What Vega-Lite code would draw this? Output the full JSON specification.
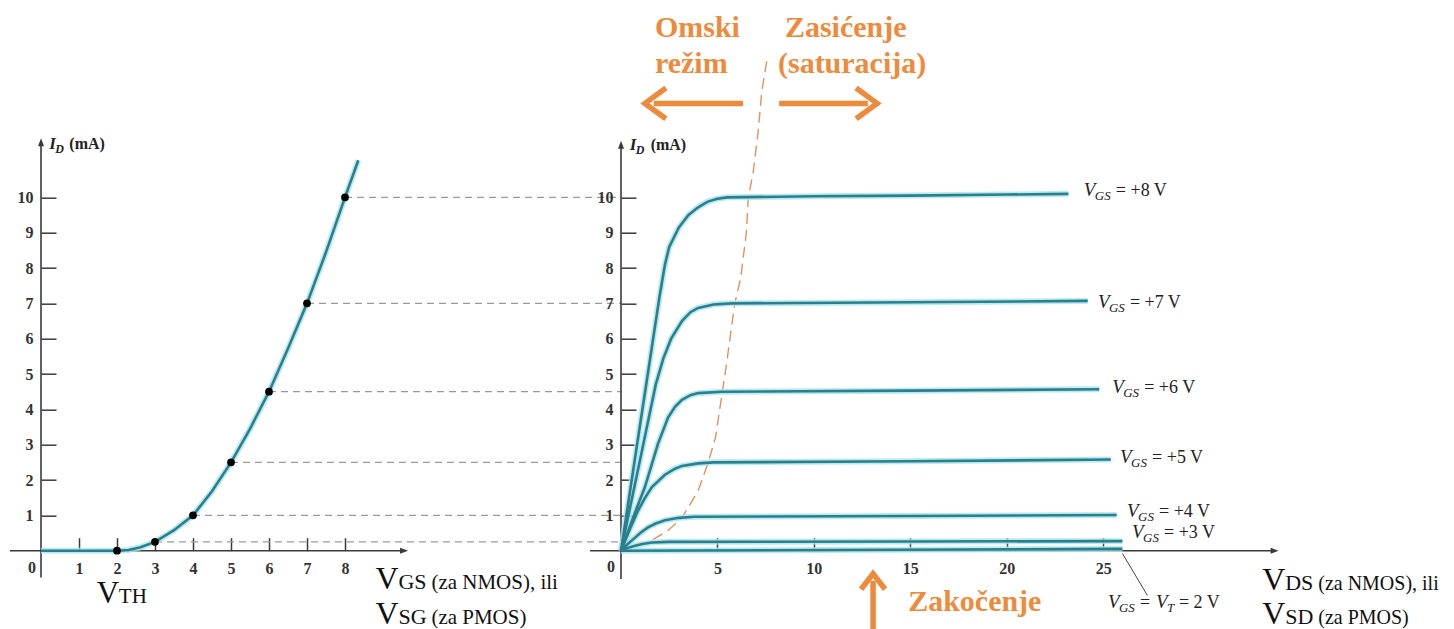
{
  "$schema": "https://vega.github.io/schema/vega-lite/v6.json",
  "background": "white",
  "padding": {"left": 9, "top": 12.7, "right": 0, "bottom": 0},
  "spacing": 200,
  "bounds": "flush",
  "config": {
    "view": {"stroke": null},
    "font": "Liberation Serif",
    "axis": {"domain": false, "grid": false, "tickColor": "#3a3a3a", "tickWidth": 1.5, "labelFont": "Liberation Serif", "labelFontSize": 16, "labelFontWeight": "bold", "labelColor": "#333333"},
    "text": {"font": "Liberation Serif", "color": "#222222", "align": "left", "baseline": "alphabetic"}
  },
  "datasets": {
    "leftCurve": [
      {"x": 0, "y": 0}, {"x": 1, "y": 0}, {"x": 2, "y": 0}, {"x": 2.3, "y": 0.02}, {"x": 2.6, "y": 0.09},
      {"x": 3, "y": 0.25}, {"x": 3.5, "y": 0.58}, {"x": 4, "y": 1.0}, {"x": 4.5, "y": 1.68}, {"x": 5, "y": 2.5},
      {"x": 5.5, "y": 3.45}, {"x": 6, "y": 4.5}, {"x": 6.5, "y": 5.72}, {"x": 7, "y": 7.0}, {"x": 7.5, "y": 8.45},
      {"x": 8, "y": 10.0}, {"x": 8.35, "y": 11.05}
    ],
    "leftDots": [
      {"x": 2, "y": 0}, {"x": 3, "y": 0.25}, {"x": 4, "y": 1}, {"x": 5, "y": 2.5},
      {"x": 6, "y": 4.5}, {"x": 7, "y": 7}, {"x": 8, "y": 10}
    ],
    "rightDash": [
      {"y": 10, "xk": 5.5}, {"y": 7, "xk": 5.7}, {"y": 4.5, "xk": 5.0},
      {"y": 2.5, "xk": 4.4}, {"y": 1, "xk": 3.5}, {"y": 0.25, "xk": 2.0}
    ],
    "boundary": [
      {"x": 0, "y": 0}, {"x": 1.4, "y": 0.23}, {"x": 2.44, "y": 0.57}, {"x": 3.16, "y": 0.93},
      {"x": 4.0, "y": 1.7}, {"x": 4.5, "y": 2.46}, {"x": 4.9, "y": 3.2}, {"x": 5.2, "y": 4.3},
      {"x": 5.45, "y": 5.2}, {"x": 5.9, "y": 7.0}, {"x": 6.2, "y": 7.7}, {"x": 6.5, "y": 9.0},
      {"x": 6.6, "y": 10.0}, {"x": 6.85, "y": 10.7}, {"x": 7.1, "y": 11.8}, {"x": 7.3, "y": 13.0},
      {"x": 7.57, "y": 13.9}
    ],
    "rightCurves": [
      {"vgs": 8, "x": 0, "y": 0}, {"vgs": 8, "x": 1.0, "y": 3.6}, {"vgs": 8, "x": 2.0, "y": 7.2},
      {"vgs": 8, "x": 2.28, "y": 8.1}, {"vgs": 8, "x": 2.5, "y": 8.6}, {"vgs": 8, "x": 3.0, "y": 9.15},
      {"vgs": 8, "x": 3.5, "y": 9.5}, {"vgs": 8, "x": 4.0, "y": 9.72}, {"vgs": 8, "x": 4.5, "y": 9.88},
      {"vgs": 8, "x": 5.0, "y": 9.96}, {"vgs": 8, "x": 5.5, "y": 10.0}, {"vgs": 8, "x": 10, "y": 10.03},
      {"vgs": 8, "x": 15, "y": 10.05}, {"vgs": 8, "x": 20, "y": 10.08}, {"vgs": 8, "x": 23.2, "y": 10.1},
      {"vgs": 7, "x": 0, "y": 0}, {"vgs": 7, "x": 1.0, "y": 2.6}, {"vgs": 7, "x": 1.8, "y": 4.7},
      {"vgs": 7, "x": 2.2, "y": 5.45}, {"vgs": 7, "x": 2.6, "y": 6.0}, {"vgs": 7, "x": 3.16, "y": 6.5},
      {"vgs": 7, "x": 3.6, "y": 6.75}, {"vgs": 7, "x": 4.0, "y": 6.87}, {"vgs": 7, "x": 4.8, "y": 6.97},
      {"vgs": 7, "x": 5.76, "y": 7.0}, {"vgs": 7, "x": 15, "y": 7.03}, {"vgs": 7, "x": 24.2, "y": 7.07},
      {"vgs": 6, "x": 0, "y": 0}, {"vgs": 6, "x": 0.6, "y": 0.9}, {"vgs": 6, "x": 1.24, "y": 1.8},
      {"vgs": 6, "x": 1.6, "y": 2.45}, {"vgs": 6, "x": 1.92, "y": 3.03}, {"vgs": 6, "x": 2.44, "y": 3.77},
      {"vgs": 6, "x": 2.8, "y": 4.07}, {"vgs": 6, "x": 3.16, "y": 4.27}, {"vgs": 6, "x": 3.6, "y": 4.4},
      {"vgs": 6, "x": 4.0, "y": 4.46}, {"vgs": 6, "x": 5.2, "y": 4.5}, {"vgs": 6, "x": 15, "y": 4.53},
      {"vgs": 6, "x": 24.8, "y": 4.57},
      {"vgs": 5, "x": 0, "y": 0}, {"vgs": 5, "x": 0.45, "y": 0.6}, {"vgs": 5, "x": 0.88, "y": 1.13},
      {"vgs": 5, "x": 1.25, "y": 1.5}, {"vgs": 5, "x": 1.6, "y": 1.8}, {"vgs": 5, "x": 2.28, "y": 2.15},
      {"vgs": 5, "x": 2.8, "y": 2.32}, {"vgs": 5, "x": 3.16, "y": 2.4}, {"vgs": 5, "x": 4.0, "y": 2.47},
      {"vgs": 5, "x": 4.8, "y": 2.5}, {"vgs": 5, "x": 15, "y": 2.53}, {"vgs": 5, "x": 25.4, "y": 2.58},
      {"vgs": 4, "x": 0, "y": 0}, {"vgs": 4, "x": 0.35, "y": 0.19}, {"vgs": 4, "x": 0.73, "y": 0.37},
      {"vgs": 4, "x": 1.0, "y": 0.5}, {"vgs": 4, "x": 1.4, "y": 0.66}, {"vgs": 4, "x": 1.8, "y": 0.77},
      {"vgs": 4, "x": 2.28, "y": 0.86}, {"vgs": 4, "x": 3.0, "y": 0.93}, {"vgs": 4, "x": 3.8, "y": 0.96},
      {"vgs": 4, "x": 15, "y": 0.98}, {"vgs": 4, "x": 25.7, "y": 1.01},
      {"vgs": 3, "x": 0, "y": 0}, {"vgs": 3, "x": 0.35, "y": 0.08}, {"vgs": 3, "x": 0.73, "y": 0.14},
      {"vgs": 3, "x": 1.1, "y": 0.19}, {"vgs": 3, "x": 1.6, "y": 0.23}, {"vgs": 3, "x": 2.5, "y": 0.25},
      {"vgs": 3, "x": 15, "y": 0.26}, {"vgs": 3, "x": 26.0, "y": 0.27},
      {"vgs": 2, "x": 0, "y": 0}, {"vgs": 2, "x": 26.0, "y": 0.05}
    ],
    "vgsLabels": [
      {"x": 24.0, "y": 10.03, "rest": "= +8 V"},
      {"x": 24.73, "y": 6.88, "rest": "= +7 V"},
      {"x": 25.47, "y": 4.45, "rest": "= +6 V"},
      {"x": 25.88, "y": 2.49, "rest": "= +5 V"},
      {"x": 26.24, "y": 0.96, "rest": "= +4 V"},
      {"x": 26.5, "y": 0.35, "rest": "= +3 V"}
    ],
    "orangeText": [
      {"x": 1.76, "y": 14.53, "t": "Omski"},
      {"x": 1.76, "y": 13.51, "t": "režim"},
      {"x": 8.5, "y": 14.53, "t": "Zasićenje"},
      {"x": 8.14, "y": 13.51, "t": "(saturacija)"},
      {"x": 14.89, "y": -1.7, "t": "Zakočenje"}
    ]
  },
  "hconcat": [
    {
      "width": 380,
      "height": 424,
      "encoding": {
        "x": {"field": "x", "type": "quantitative", "scale": {"domain": [0, 10]},
              "axis": {"title": null, "values": [1, 2, 3, 4, 5, 6, 7, 8], "tickSize": -13, "labelPadding": 23}},
        "y": {"field": "y", "type": "quantitative", "scale": {"domain": [0, 12]},
              "axis": {"title": null, "values": [1, 2, 3, 4, 5, 6, 7, 8, 9, 10], "tickSize": -15, "labelPadding": 23}}
      },
      "layer": [
        {"data": {"name": "leftDots"}, "transform": [{"filter": "datum.y > 0"}],
         "mark": {"type": "rule", "color": "#9a9a9a", "strokeWidth": 1.3, "strokeDash": [7, 5]},
         "encoding": {"x2": {"datum": 15.26}}},
        {"data": {"values": [{"x": -0.82, "x2": 9.5, "y": 0}]},
         "mark": {"type": "rule", "color": "#3a3a3a", "strokeWidth": 1.6},
         "encoding": {"x2": {"field": "x2"}}},
        {"data": {"values": [{"x": 0, "y": -0.76, "y2": 11.5}]},
         "mark": {"type": "rule", "color": "#3a3a3a", "strokeWidth": 1.6},
         "encoding": {"y2": {"field": "y2"}}},
        {"data": {"values": [{"x": 9.66, "y": 0}]},
         "mark": {"type": "point", "shape": "M0,0L-2,-0.75L-2,0.75Z", "filled": true, "opacity": 1, "color": "#3a3a3a", "size": 64}},
        {"data": {"values": [{"x": 0, "y": 11.67}]},
         "mark": {"type": "point", "shape": "M0,0L-0.75,2L0.75,2Z", "filled": true, "opacity": 1, "color": "#3a3a3a", "size": 64}},
        {"data": {"name": "leftCurve"}, "mark": {"type": "line", "color": "#a9e5ee", "strokeWidth": 6, "opacity": 0.8}},
        {"data": {"name": "leftCurve"}, "mark": {"type": "line", "color": "#2b7f8c", "strokeWidth": 2.6}},
        {"data": {"name": "leftDots"}, "mark": {"type": "circle", "color": "#000000", "size": 60, "opacity": 1}},
        {"data": {"values": [{"x": 0, "y": 0}]},
         "mark": {"type": "text", "text": "0", "font": "Liberation Serif", "dx": -9, "dy": 17, "fontSize": 16, "fontWeight": "bold", "color": "#333333", "align": "center", "baseline": "middle"}},
        {"data": {"values": [{"x": 0.22, "y": 11.36}]},
         "layer": [
           {"mark": {"type": "text", "text": "I", "font": "Liberation Serif", "fontStyle": "italic", "fontWeight": "bold", "fontSize": 17}},
           {"mark": {"type": "text", "text": "D", "font": "Liberation Serif", "fontStyle": "italic", "fontWeight": "bold", "fontSize": 12, "dx": 6, "dy": 4}},
           {"mark": {"type": "text", "text": "(mA)", "font": "Liberation Serif", "fontWeight": "bold", "fontSize": 16, "dx": 20}}
         ]},
        {"data": {"values": [{"x": 1.47, "y": -1.47}]},
         "layer": [
           {"mark": {"type": "text", "text": "V", "font": "Liberation Serif", "fontSize": 31, "color": "#111111"}},
           {"mark": {"type": "text", "text": "TH", "font": "Liberation Serif", "fontSize": 21, "dx": 22, "color": "#111111"}}
         ]},
        {"data": {"values": [{"x": 8.8, "y": -1.08}]},
         "layer": [
           {"mark": {"type": "text", "text": "V", "font": "Liberation Serif", "fontSize": 32, "color": "#111111"}},
           {"mark": {"type": "text", "text": "GS", "font": "Liberation Serif", "fontSize": 22, "dx": 23, "color": "#111111"}},
           {"mark": {"type": "text", "text": "(za NMOS), ili", "font": "Liberation Serif", "fontSize": 21, "dx": 56, "color": "#111111"}}
         ]},
        {"data": {"values": [{"x": 8.8, "y": -2.08}]},
         "layer": [
           {"mark": {"type": "text", "text": "V", "font": "Liberation Serif", "fontSize": 32, "color": "#111111"}},
           {"mark": {"type": "text", "text": "SG", "font": "Liberation Serif", "fontSize": 22, "dx": 23, "color": "#111111"}},
           {"mark": {"type": "text", "text": "(za PMOS)", "font": "Liberation Serif", "fontSize": 21, "dx": 56, "color": "#111111"}}
         ]}
      ]
    },
    {
      "width": 675,
      "height": 424,
      "encoding": {
        "x": {"field": "x", "type": "quantitative", "scale": {"domain": [0, 35]},
              "axis": {"title": null, "values": [5, 10, 15, 20, 25], "tickSize": -13, "labelPadding": 23}},
        "y": {"field": "y", "type": "quantitative", "scale": {"domain": [0, 12]},
              "axis": {"title": null, "values": [1, 2, 3, 4, 5, 6, 7, 8, 9, 10], "tickSize": -15, "labelPadding": 23}}
      },
      "layer": [
        {"data": {"name": "rightDash"},
         "mark": {"type": "rule", "color": "#9a9a9a", "strokeWidth": 1.3, "strokeDash": [7, 5]},
         "encoding": {"x": {"datum": 0}, "x2": {"field": "xk"}}},
        {"data": {"values": [{"x": -1.6, "x2": 33.8, "y": 0}]},
         "mark": {"type": "rule", "color": "#3a3a3a", "strokeWidth": 1.6},
         "encoding": {"x2": {"field": "x2"}}},
        {"data": {"values": [{"x": 0, "y": -0.8, "y2": 11.45}]},
         "mark": {"type": "rule", "color": "#3a3a3a", "strokeWidth": 1.6},
         "encoding": {"y2": {"field": "y2"}}},
        {"data": {"values": [{"x": 34.1, "y": 0}]},
         "mark": {"type": "point", "shape": "M0,0L-2,-0.75L-2,0.75Z", "filled": true, "opacity": 1, "color": "#3a3a3a", "size": 64}},
        {"data": {"values": [{"x": 0, "y": 11.6}]},
         "mark": {"type": "point", "shape": "M0,0L-0.75,2L0.75,2Z", "filled": true, "opacity": 1, "color": "#3a3a3a", "size": 64}},
        {"data": {"name": "boundary"},
         "mark": {"type": "line", "color": "#dc9461", "strokeWidth": 1.4, "strokeDash": [11, 6]}},
        {"data": {"name": "rightCurves"},
         "mark": {"type": "line", "color": "#a9e5ee", "strokeWidth": 6, "opacity": 0.8},
         "encoding": {"detail": {"field": "vgs"}}},
        {"data": {"name": "rightCurves"},
         "mark": {"type": "line", "color": "#2b7f8c", "strokeWidth": 2.6},
         "encoding": {"detail": {"field": "vgs"}}},
        {"data": {"name": "vgsLabels"},
         "layer": [
           {"mark": {"type": "text", "text": "V", "font": "Liberation Serif", "fontStyle": "italic", "fontSize": 19}},
           {"mark": {"type": "text", "text": "GS", "font": "Liberation Serif", "fontStyle": "italic", "fontSize": 13, "dx": 11, "dy": 4}},
           {"mark": {"type": "text", "font": "Liberation Serif", "fontSize": 18, "dx": 32}, "encoding": {"text": {"field": "rest"}}}
         ]},
        {"data": {"values": [{"x": 25.25, "y": -1.61}]},
         "layer": [
           {"mark": {"type": "text", "text": "V", "font": "Liberation Serif", "fontStyle": "italic", "fontSize": 19}},
           {"mark": {"type": "text", "text": "GS", "font": "Liberation Serif", "fontStyle": "italic", "fontSize": 13, "dx": 11, "dy": 4}},
           {"mark": {"type": "text", "text": "=", "font": "Liberation Serif", "fontSize": 18, "dx": 32}},
           {"mark": {"type": "text", "text": "V", "font": "Liberation Serif", "fontStyle": "italic", "fontSize": 19, "dx": 48}},
           {"mark": {"type": "text", "text": "T", "font": "Liberation Serif", "fontStyle": "italic", "fontSize": 13, "dx": 59, "dy": 4}},
           {"mark": {"type": "text", "text": "= 2 V", "font": "Liberation Serif", "fontSize": 18, "dx": 71}}
         ]},
        {"data": {"values": [{"x": 26.0, "y": -0.08, "x2": 27.3, "y2": -1.27}]},
         "mark": {"type": "rule", "color": "#444444", "strokeWidth": 1},
         "encoding": {"x2": {"field": "x2"}, "y2": {"field": "y2"}}},
        {"data": {"name": "orangeText"},
         "mark": {"type": "text", "font": "Liberation Serif", "fontSize": 30, "fontWeight": "bold", "color": "#ee8a3b"},
         "encoding": {"text": {"field": "t"}}},
        {"data": {"values": [{"x": 6.33, "x2": 1.7, "y": 12.66}, {"x": 8.2, "x2": 12.8, "y": 12.66}]},
         "mark": {"type": "rule", "color": "#ee8a3b", "strokeWidth": 5.5},
         "encoding": {"x2": {"field": "x2"}}},
        {"data": {"values": [{"x": 13.07, "y": -2.3, "y2": -0.85}]},
         "mark": {"type": "rule", "color": "#ee8a3b", "strokeWidth": 5.5},
         "encoding": {"y2": {"field": "y2"}}},
        {"data": {"values": [{"x": 1.24, "y": 12.66}]},
         "mark": {"type": "point", "shape": "M1.5,-1.1L0,0L1.5,1.1", "filled": false, "opacity": 1, "color": "#ee8a3b", "strokeWidth": 5.5, "size": 784}},
        {"data": {"values": [{"x": 13.28, "y": 12.66}]},
         "mark": {"type": "point", "shape": "M-1.5,-1.1L0,0L-1.5,1.1", "filled": false, "opacity": 1, "color": "#ee8a3b", "strokeWidth": 5.5, "size": 784}},
        {"data": {"values": [{"x": 13.07, "y": -0.65}]},
         "mark": {"type": "point", "shape": "M-1,1.3L0,0L1,1.3", "filled": false, "opacity": 1, "color": "#ee8a3b", "strokeWidth": 5.5, "size": 576}},
        {"data": {"values": [{"x": 0, "y": 0}]},
         "mark": {"type": "text", "text": "0", "font": "Liberation Serif", "dx": -10, "dy": 16, "fontSize": 16, "fontWeight": "bold", "color": "#333333", "align": "center", "baseline": "middle"}},
        {"data": {"values": [{"x": 0.45, "y": 11.33}]},
         "layer": [
           {"mark": {"type": "text", "text": "I", "font": "Liberation Serif", "fontStyle": "italic", "fontWeight": "bold", "fontSize": 17}},
           {"mark": {"type": "text", "text": "D", "font": "Liberation Serif", "fontStyle": "italic", "fontWeight": "bold", "fontSize": 12, "dx": 6, "dy": 4}},
           {"mark": {"type": "text", "text": "(mA)", "font": "Liberation Serif", "fontWeight": "bold", "fontSize": 16, "dx": 21}}
         ]},
        {"data": {"values": [{"x": 33.25, "y": -1.1}]},
         "layer": [
           {"mark": {"type": "text", "text": "V", "font": "Liberation Serif", "fontSize": 32, "color": "#111111"}},
           {"mark": {"type": "text", "text": "DS", "font": "Liberation Serif", "fontSize": 22, "dx": 23, "color": "#111111"}},
           {"mark": {"type": "text", "text": "(za NMOS), ili", "font": "Liberation Serif", "fontSize": 20, "dx": 56, "color": "#111111"}}
         ]},
        {"data": {"values": [{"x": 33.25, "y": -2.08}]},
         "layer": [
           {"mark": {"type": "text", "text": "V", "font": "Liberation Serif", "fontSize": 32, "color": "#111111"}},
           {"mark": {"type": "text", "text": "SD", "font": "Liberation Serif", "fontSize": 22, "dx": 23, "color": "#111111"}},
           {"mark": {"type": "text", "text": "(za PMOS)", "font": "Liberation Serif", "fontSize": 20, "dx": 56, "color": "#111111"}}
         ]}
      ]
    }
  ]
}
